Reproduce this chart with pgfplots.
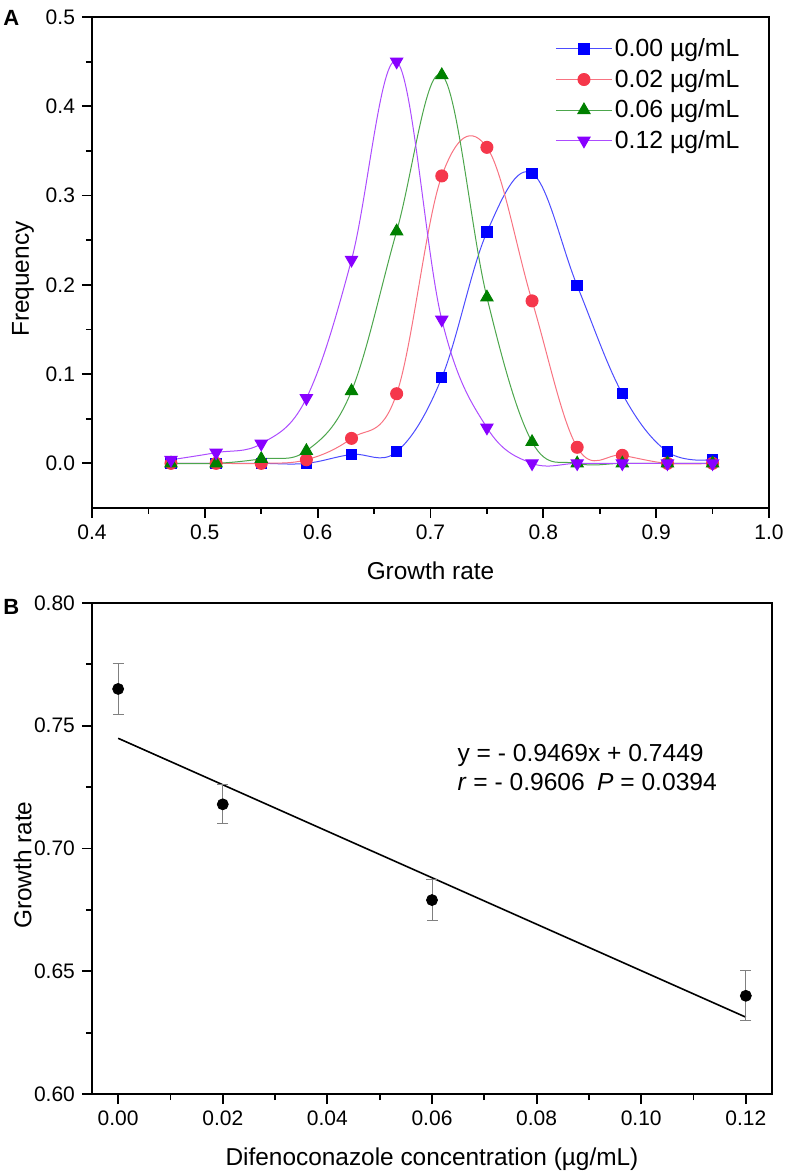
\documentclass[border=0pt]{standalone}
\usepackage{fontspec}
\setmainfont{Liberation Sans}
\usepackage{pgfplots}
\usepackage{pgfplotstable}
\pgfplotsset{compat=1.18}
\definecolor{cblue}{RGB}{0,0,255}
\definecolor{cred}{RGB}{245,55,75}
\definecolor{cgreen}{RGB}{0,128,0}
\definecolor{cpurple}{RGB}{136,0,255}

\pgfplotstableread{
x     blue   red    green  purple
0.47  0.000  0.000  0.000  0.004
0.51  0.000  0.000  0.000  0.012
0.55  0.000  0.000  0.005  0.022
0.59  0.000  0.004  0.014  0.073
0.63  0.010  0.028  0.081  0.228
0.67  0.013  0.078  0.260  0.450
0.71  0.096  0.322  0.435  0.161
0.75  0.259  0.354  0.186  0.040
0.79  0.325  0.182  0.024  0.000
0.83  0.199  0.018  0.000  0.000
0.87  0.078  0.009  0.000  0.000
0.91  0.013  0.000  0.000  0.000
0.95  0.004  0.000  0.000  0.000
}\freqtable

\pgfplotstableread{
x     y      e
0.00  0.765  0.0105
0.02  0.718  0.0080
0.06  0.679  0.0085
0.12  0.640  0.0102
}\ratetable

\begin{document}
\begin{tikzpicture}
\useasboundingbox (0,0) rectangle (393.5pt,-587pt);
\pgfplotsset{
 common/.style={
  scale only axis,
  axis line style={line width=1pt},
  tick align=outside, xtick pos=bottom, ytick pos=left,
  major tick length=5pt, minor tick length=3pt,
  every tick/.style={black, line width=0.9pt},
  tick label style={font=\fontsize{10.5}{12}\selectfont},
  label style={font=\fontsize{12.2}{14}\selectfont},
  /pgf/number format/assume math mode=true,
  minor x tick num=1, minor y tick num=1,
  clip=false,
 }
}
\begin{axis}[common,
  at={(46pt,-8.5pt)}, anchor=north west,
  width=338.5pt, height=245.5pt,
  xmin=0.4, xmax=1.0, ymin=-0.05, ymax=0.5,
  xtick={0.4,0.5,0.6,0.7,0.8,0.9,1.0},
  ytick={0,0.1,0.2,0.3,0.4,0.5},
  xticklabel style={/pgf/number format/.cd, fixed, fixed zerofill, precision=1},
  yticklabel style={/pgf/number format/.cd, fixed, fixed zerofill, precision=1},
  xlabel={Growth rate}, ylabel={Frequency},
  xlabel style={at={(axis description cs:0.5,-0.1466)}, anchor=base},
  ylabel style={at={(axis description cs:-0.102,0.466)}, anchor=center},
  legend cell align=left,
  legend style={at={(axis description cs:0.684,0.962)}, anchor=north west,
    draw=none, fill=none, inner sep=0pt, row sep=2.4pt,
    font=\fontsize{12.4}{14}\selectfont,
    nodes={inner sep=1.2pt}},
  legend image code/.code={\draw[mark repeat=2,mark phase=2] plot coordinates {(0pt,0pt)(14pt,0pt)(28pt,0pt)};},
  every axis plot/.append style={smooth, tension=0.62},
]
\addplot[color=cblue!70!white, line width=0.5pt, mark=square*, mark size=2.6pt, mark options={cblue, fill=cblue}] table[x=x,y=blue]{\freqtable};
\addlegendentry{0.00 µg/mL}
\addplot[color=cred!70!white, line width=0.5pt, mark=*, mark size=3pt, mark options={cred, fill=cred}] table[x=x,y=red]{\freqtable};
\addlegendentry{0.02 µg/mL}
\addplot[color=cgreen!70!white, line width=0.5pt, mark=triangle*, mark size=3.5pt, mark options={cgreen, fill=cgreen}] table[x=x,y=green]{\freqtable};
\addlegendentry{0.06 µg/mL}
\addplot[color=cpurple!70!white, line width=0.5pt, mark=triangle*, mark size=3.5pt, mark options={cpurple, fill=cpurple, rotate=180}] table[x=x,y=purple]{\freqtable};
\addlegendentry{0.12 µg/mL}
\end{axis}

\begin{axis}[common,
  at={(46pt,-301.5pt)}, anchor=north west,
  width=340pt, height=245.5pt,
  xmin=-0.005, xmax=0.125, ymin=0.6, ymax=0.8,
  xtick={0,0.02,0.04,0.06,0.08,0.10,0.12},
  ytick={0.6,0.65,0.7,0.75,0.8},
  xticklabel style={/pgf/number format/.cd, fixed, fixed zerofill, precision=2},
  yticklabel style={/pgf/number format/.cd, fixed, fixed zerofill, precision=2},
  xlabel={Difenoconazole concentration (µg/mL)}, ylabel={Growth rate},
  xlabel style={at={(axis description cs:0.5,-0.1466)}, anchor=base},
  ylabel style={at={(axis description cs:-0.102,0.466)}, anchor=center},
]
\addplot[black, line width=0.8pt] coordinates {(0,0.7449) (0.12,0.6313)};
\addplot[only marks, mark=*, mark size=2.75pt, black,
  error bars/.cd, y dir=both, y explicit,
  error bar style={color=gray, line width=0.5pt},
  error mark options={rotate=90, mark size=2.75pt, line width=0.5pt, gray}]
  table[x=x, y=y, y error=e]{\ratetable};
\node[anchor=base west, inner sep=0pt, font=\fontsize{12.3}{14}\selectfont] at (axis cs:0.0648,0.7354) {y = - 0.9469x + 0.7449};
\node[anchor=base west, inner sep=0pt, font=\fontsize{12.3}{14}\selectfont] at (axis cs:0.0648,0.7235) {\textit{r} = - 0.9606\enspace\textit{P} = 0.0394};
\end{axis}

\node[anchor=north west, inner sep=0pt, font=\bfseries\fontsize{11}{12}\selectfont] at (1.5pt,-5pt) {A};
\node[anchor=north west, inner sep=0pt, font=\bfseries\fontsize{11}{12}\selectfont] at (1.5pt,-299.5pt) {B};
\end{tikzpicture}
\end{document}
